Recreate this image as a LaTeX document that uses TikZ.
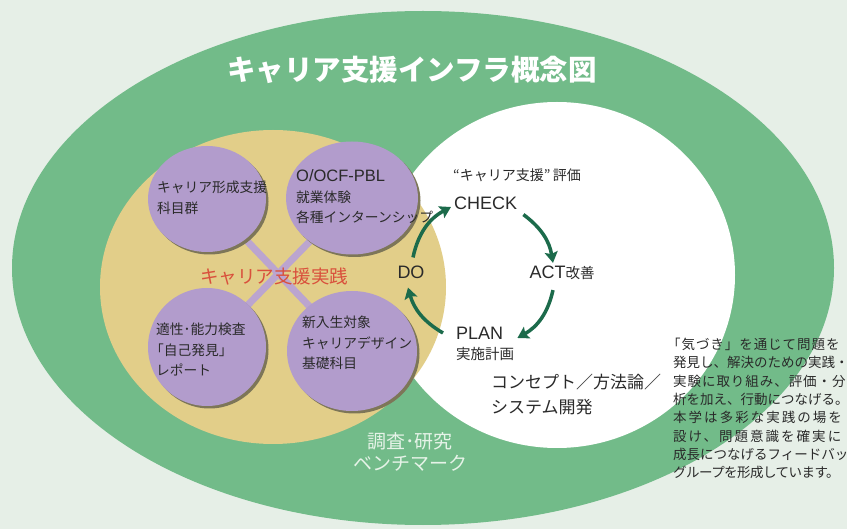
\documentclass[tikz,border=0pt]{standalone}
\usepackage{fontspec}
\setmainfont{Noto Sans CJK JP}
\newfontfamily\lat{Liberation Sans}
\usetikzlibrary{arrows.meta,shapes.geometric,shadows}
\pgfdeclarelayer{back}
\pgfdeclarelayer{mid}
\pgfsetlayers{back,mid,main}
\definecolor{bgc}{HTML}{E6EFE7}
\definecolor{grn}{HTML}{72BB89}
\definecolor{ylw}{HTML}{E2CE89}
\definecolor{ppl}{HTML}{B29CCC}
\definecolor{shd}{HTML}{7D7658}
\definecolor{xln}{HTML}{BBA5CF}
\definecolor{redt}{HTML}{D9503C}
\definecolor{arrg}{HTML}{1C6B4B}
\definecolor{txt}{HTML}{2A2A2A}
\definecolor{benchc}{HTML}{E6F3E8}
\begin{document}
\begin{tikzpicture}[x=1pt,y=-1pt,
  pcirc/.style={ellipse, fill=ppl, inner sep=0pt,
    drop shadow={shadow xshift=2.5pt, shadow yshift=-2.5pt, fill=shd, opacity=1}},
  ctext/.style={anchor=west, align=left, text=txt, inner sep=0pt,
    font=\fontsize{13.75}{20.5}\selectfont},
  xline/.style={draw=xln, line width=7pt},
  lbl/.style={text=txt, inner sep=1pt},
  latl/.style={lbl, font=\lat\fontsize{18}{20}\selectfont},
  jpl/.style={lbl, font=\fontsize{14.5}{17}\selectfont},
  arr/.style={draw=arrg, line width=3.5pt, -{Stealth[length=11pt,width=13pt,inset=2pt]}},
]
\useasboundingbox (0,0) rectangle (847,529);
\clip (0,0) rectangle (847,529);
\begin{pgfonlayer}{back}
\fill[bgc] (0,0) rectangle (847,529);
\fill[grn] (423,268) ellipse [x radius=411pt, y radius=257pt];
\fill[white] (557,275) ellipse [x radius=178pt, y radius=173pt];
\fill[ylw] (273,287) ellipse [x radius=173pt, y radius=157pt];
\end{pgfonlayer}

% title
\node[text=white, inner sep=0pt, font=\fontsize{28.5}{30}\selectfont\bfseries] (title) at (412,70) {キャリア支援インフラ概念図};

% purple circles
\node[pcirc, minimum width=118pt, minimum height=106pt] (tl) at (207,199) {};
\node[pcirc, minimum width=132pt, minimum height=113pt] (tr) at (352,198) {};
\node[pcirc, minimum width=118pt, minimum height=118pt] (bl) at (207,347) {};
\node[pcirc, minimum width=130pt, minimum height=120pt] (br) at (352,351) {};

\begin{pgfonlayer}{mid}
\draw[xline] (tl.center) -- (br.center);
\draw[xline] (tr.center) -- (bl.center);
\end{pgfonlayer}

\node[ctext] (tlt) at (157,198) {キャリア形成支援\\科目群};
\node[ctext] (trt) at (296,197) {{\lat\fontsize{16.5}{20}\selectfont O/OCF-PBL}\\就業体験\\各種インターンシップ};
\node[ctext] (blt) at (156,350) {適性･能力検査\\\hspace*{-0.45em}「自己発見」\\レポート};
\node[ctext] (brt) at (302,343) {新入生対象\\キャリアデザイン\\基礎科目};

\node[text=redt, inner sep=0pt, font=\fontsize{18.5}{20}\selectfont] (practice) at (274,277) {キャリア支援実践};

% PDCA
\node[jpl, anchor=west, font=\fontsize{14}{16}\selectfont] (eval) at (452,175) {“キャリア支援”\,評価};
\node[latl, anchor=west] (check) at (453,203) {CHECK};
\node[lbl] (act) at (562,273) {{\lat\fontsize{18}{20}\selectfont ACT}{\fontsize{14.5}{17}\selectfont 改善}};
\node[latl] (do) at (411,272) {DO};
\node[latl, anchor=west] (plan) at (455,333) {PLAN};
\node[jpl, anchor=west] (plansub) at (455,354) {実施計画};

\draw[arr] ([xshift=2pt,yshift=7pt]do.north) to[bend left=25] ([xshift=-2pt,yshift=-4pt]check.west);
\draw[arr] ([xshift=5pt,yshift=-4pt]check.south east) to[bend left=22] ([xshift=-9pt,yshift=2pt]act.north);
\draw[arr] ([xshift=-9pt,yshift=-9pt]act.south) to[bend left=24] ([xshift=13pt,yshift=-5pt]plan.east);
\draw[arr] ([xshift=-12pt]plan.west) to[bend left=22] ([xshift=-3pt,yshift=-8pt]do.south);

\node[lbl, anchor=west, align=left, inner sep=0pt, font=\fontsize{17}{25}\selectfont] (concept) at (491,395) {コンセプト／方法論／\\システム開発};

\node[text=benchc, align=center, inner sep=0pt, font=\fontsize{19}{22}\selectfont] (bench) at (410,452) {調査･研究\\ベンチマーク};

% side note
\node[anchor=north west, align=left, text=txt, inner sep=0pt, font=\fontsize{13.5}{18.3}\selectfont] (note) at (673,338) {%
\hspace*{-0.45em}{\addfontfeature{LetterSpace=7}「気づき」を通じて問題を}\\
発見し、解決のための実践・\\
{\addfontfeature{LetterSpace=7}実験に取り組み、評価・分}\\
析を加え、行動につなげる。\\
{\addfontfeature{LetterSpace=15}本学は多彩な実践の場を}\\
{\addfontfeature{LetterSpace=15}設け、問題意識を確実に}\\
成長につなげるフィードバッ\\
{\addfontfeature{LetterSpace=-4}グループを形成しています。}};
\end{tikzpicture}
\end{document}
